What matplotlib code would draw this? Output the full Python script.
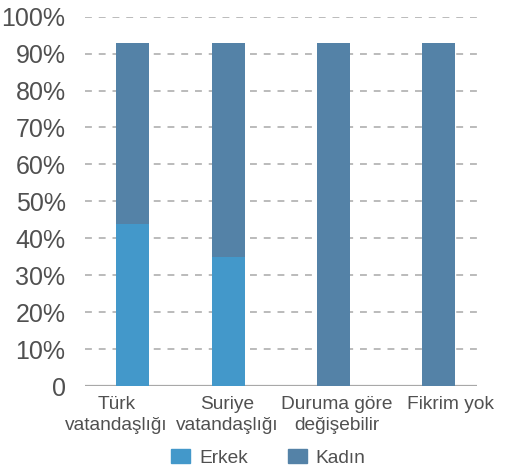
import matplotlib
matplotlib.use("Agg")
import matplotlib.pyplot as plt
from matplotlib.patches import Patch

categories = ["Türk\nvatandaşlığı", "Suriye\nvatandaşlığı", "Duruma göre\ndeğişebilir", "Fikrim yok"]
erkek = [44, 35, 0, 0]
kadin = [49, 58, 93, 93]
yticks = [0, 10, 20, 30, 40, 50, 60, 70, 80, 90, 100]
ytick_labels = ["0", "10%", "20%", "30%", "40%", "50%", "60%", "70%", "80%", "90%", "100%"]

# layout (positions in axis units)
bar_pos = [0.0, 0.96, 2.01, 3.06]
label_pos = [-0.16, 0.945, 2.045, 3.185]
bar_w = 0.33

c_erkek = "#4398CA"
c_kadin = "#5482A7"
txt = "#505050"

plt.rcParams['font.family'] = ['Liberation Sans', 'DejaVu Sans']

fig = plt.figure(figsize=(5.07, 4.67), dpi=100)
ax = fig.add_axes([85/507, 1 - 386/467, 392/507, 369.3/467])

ax.bar(bar_pos, erkek, width=bar_w, color=c_erkek, zorder=3)
ax.bar(bar_pos, kadin, width=bar_w, bottom=erkek, color=c_kadin, zorder=3)

ax.set_ylim(0, 100)
ax.set_xlim(-0.475, 3.445)
ax.set_yticks(yticks)
ax.set_yticklabels(ytick_labels, fontsize=18, color=txt)
ax.set_xticks(label_pos)
ax.set_xticklabels(categories, fontsize=13.8, color=txt, linespacing=1.3)
ax.tick_params(axis='y', length=0, pad=14)
ax.tick_params(axis='x', length=0, pad=7)

for y in yticks[1:]:
    ax.axhline(y, color="#a8a8a8", lw=1.1, ls=(0, (4.5, 4.5)), zorder=1)
ax.axhline(0, color="#a8a8a8", lw=1.6, zorder=2)

for s in ax.spines.values():
    s.set_visible(False)

handles = [Patch(color=c_erkek, label="Erkek"), Patch(color=c_kadin, label="Kadın")]
leg = fig.legend(handles=handles, loc='center', bbox_to_anchor=(268.5/507, 1 - 458/467),
                 ncol=2, frameon=False, fontsize=13.8, handlelength=1.0, handleheight=0.7,
                 handletextpad=0.45, columnspacing=2.1)
for t in leg.get_texts():
    t.set_color(txt)

fig.savefig("out.png", dpi=100)
